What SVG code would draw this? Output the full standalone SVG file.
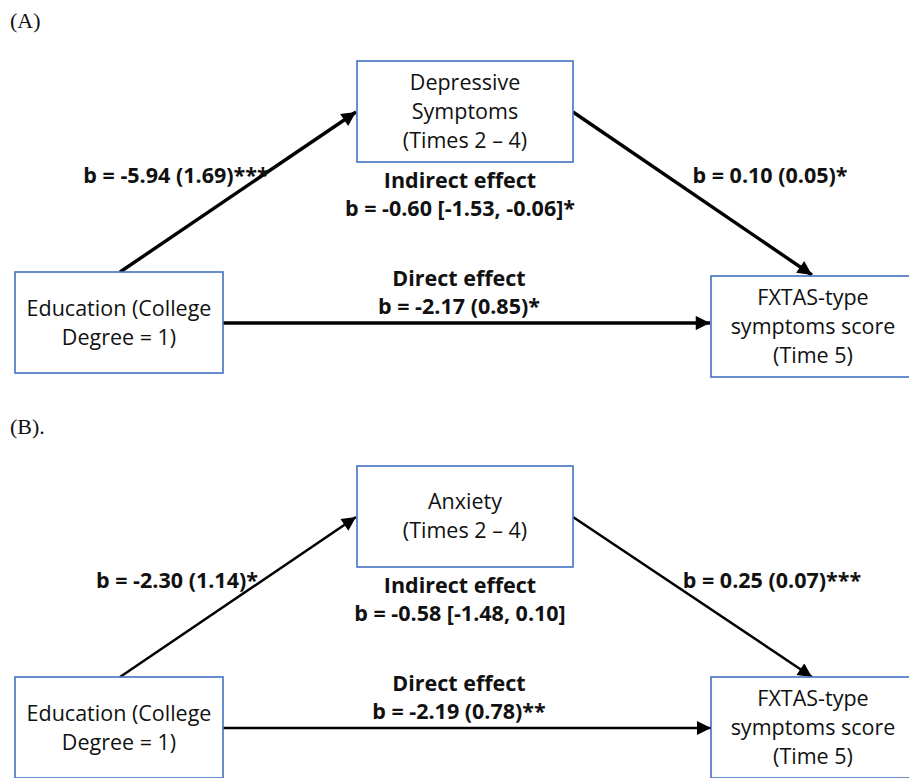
<svg xmlns="http://www.w3.org/2000/svg" width="909" height="778" viewBox="0 0 909 778">
<defs>
<style>
.box{fill:#fff;stroke:#4472C4;stroke-width:1.6}
.t{font-family:"Open Sans","Liberation Sans",sans-serif;font-size:21.5px;fill:#111;text-anchor:middle}
.b{font-family:"Open Sans","Liberation Sans",sans-serif;font-size:21.5px;font-weight:bold;fill:#111;text-anchor:middle}
.p{font-family:"Liberation Serif",serif;font-size:22px;fill:#111}
.ca{stroke:#000;stroke-width:3.4;fill:none;marker-end:url(#ah)}
.cb{stroke:#000;stroke-width:2.5;fill:none;marker-end:url(#ah2)}
</style>
<marker id="ah" viewBox="0 0 10 10" refX="10" refY="5" markerWidth="4.6" markerHeight="4.2" orient="auto" markerUnits="strokeWidth">
<path d="M0,0 L10,5 L0,10 z" fill="#000"/>
</marker>
<marker id="ah2" viewBox="0 0 10 10" refX="10" refY="5" markerWidth="6" markerHeight="5.6" orient="auto" markerUnits="strokeWidth">
<path d="M0,0 L10,5 L0,10 z" fill="#000"/>
</marker>
</defs>
<rect width="909" height="778" fill="#fff"/>
<text class="p" x="10" y="28">(A)</text>
<text class="p" x="10" y="434">(B).</text>

<g id="connectors">
<line class="ca" x1="120" y1="272" x2="356" y2="112"/>
<line class="ca" x1="573" y1="112" x2="812" y2="275"/>
<line class="ca" x1="223" y1="323" x2="710" y2="323"/>
<line class="cb" x1="120" y1="677" x2="356" y2="517"/>
<line class="cb" x1="573" y1="517" x2="812" y2="677"/>
<line class="cb" x1="223" y1="728" x2="711" y2="728"/>
</g>

<g id="depressive">
<rect class="box" x="357" y="61" width="216" height="101"/>
<text class="t" x="465" y="90">Depressive</text>
<text class="t" x="465" y="119">Symptoms</text>
<text class="t" x="465" y="148">(Times 2 – 4)</text>
</g>
<g id="educationA">
<rect class="box" x="15" y="272" width="208" height="101"/>
<text class="t" x="119" y="316">Education (College</text>
<text class="t" x="119" y="345">Degree = 1)</text>
</g>
<g id="fxtasA">
<rect class="box" x="711" y="276" width="204" height="101"/>
<text class="t" x="813" y="305">FXTAS-type</text>
<text class="t" x="813" y="334">symptoms score</text>
<text class="t" x="813" y="363">(Time 5)</text>
</g>
<g id="labelsA">
<text class="b" x="176" y="183">b = -5.94 (1.69)***</text>
<text class="b" x="460" y="188">Indirect effect</text>
<text class="b" x="460" y="216">b = -0.60 [-1.53, -0.06]*</text>
<text class="b" x="770" y="183">b = 0.10 (0.05)*</text>
<text class="b" x="459" y="286">Direct effect</text>
<text class="b" x="459" y="314">b = -2.17 (0.85)*</text>
</g>

<g id="anxiety">
<rect class="box" x="357" y="466" width="216" height="101"/>
<text class="t" x="465" y="509">Anxiety</text>
<text class="t" x="465" y="538">(Times 2 – 4)</text>
</g>
<g id="educationB">
<rect class="box" x="15" y="677" width="208" height="101"/>
<text class="t" x="119" y="721">Education (College</text>
<text class="t" x="119" y="750">Degree = 1)</text>
</g>
<g id="fxtasB">
<rect class="box" x="711" y="677" width="204" height="101"/>
<text class="t" x="813" y="706">FXTAS-type</text>
<text class="t" x="813" y="735">symptoms score</text>
<text class="t" x="813" y="764">(Time 5)</text>
</g>
<g id="labelsB">
<text class="b" x="177" y="588">b = -2.30 (1.14)*</text>
<text class="b" x="460" y="593">Indirect effect</text>
<text class="b" x="460" y="621">b = -0.58 [-1.48, 0.10]</text>
<text class="b" x="772" y="588">b = 0.25 (0.07)***</text>
<text class="b" x="459" y="691">Direct effect</text>
<text class="b" x="459" y="719">b = -2.19 (0.78)**</text>
</g>
</svg>
